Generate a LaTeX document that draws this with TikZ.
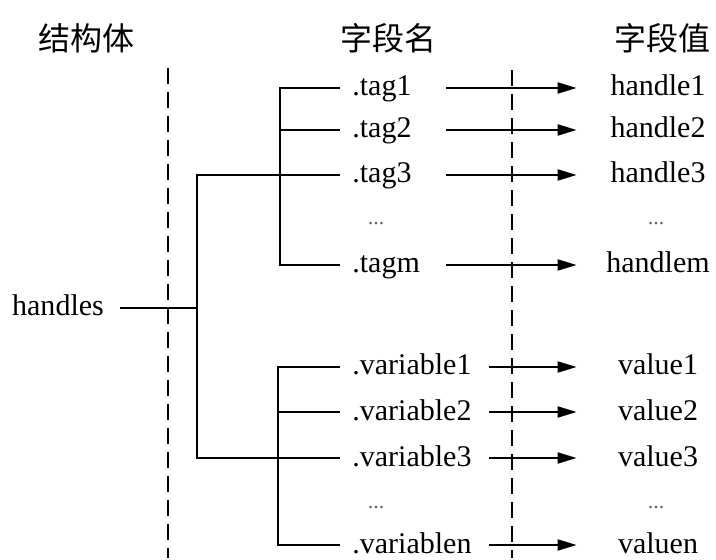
\documentclass[tikz,border=0pt]{standalone}
\usepackage{fontspec}
\setmainfont{Liberation Serif}
\newfontfamily\cjk{Noto Sans CJK SC}
\usetikzlibrary{arrows.meta, positioning}

\begin{document}
\begin{tikzpicture}[x=0.5pt, y=-0.5pt,
  head/.style={font=\cjk\fontsize{16}{18}\selectfont, inner sep=0pt},
  txt/.style={font=\fontsize{15}{17}\selectfont, inner sep=0pt,
              text height=10.5pt, text depth=2.5pt},
  field/.style={txt, anchor=west, inner xsep=6pt, align=left},
  tagf/.style={field, text width=40.5pt},
  varf/.style={field, text width=62pt},
  val/.style={txt, text width=81pt, align=center},
  dots/.style={font=\fontsize{11}{13}\selectfont, text=black!60, inner sep=0pt},
  tree/.style={line width=1pt},
  sep/.style={line width=1pt, dash pattern=on 8pt off 4pt},
  arr/.style={-{Triangle[length=9.5pt,width=5.5pt]}, line width=1pt}
]
  \useasboundingbox (0,0) rectangle (716,560);

  \node[head] (hstruct) at (86,38) {结构体};
  \node[head] (hname) at (388,38) {字段名};
  \node[head] (hvalue) at (662,38) {字段值};

  \draw[sep] (168,68) -- (168,558);
  \draw[sep] (512,70) -- (512,558);

  \node[txt, inner xsep=8pt] (handles) at (58,308) {handles};

  \node[tagf] (tag1) at (340,88) {.tag1};
  \node[tagf] (tag2) at (340,130) {.tag2};
  \node[tagf] (tag3) at (340,175) {.tag3};
  \node[dots] (tagdots) at (376,224) {...};
  \node[tagf] (tagm) at (340,265) {.tagm};

  \node[varf] (var1) at (340,367) {.variable1};
  \node[varf] (var2) at (340,412) {.variable2};
  \node[varf] (var3) at (340,458) {.variable3};
  \node[dots] (vardots) at (376,508) {...};
  \node[varf] (varn) at (340,545) {.variablen};

  \node[val] (handle1) at (658,88) {handle1};
  \node[val] (handle2) at (658,130) {handle2};
  \node[val] (handle3) at (658,175) {handle3};
  \node[dots] (handledots) at (656,224) {...};
  \node[val] (handlem) at (658,265) {handlem};

  \node[val] (value1) at (658,367) {value1};
  \node[val] (value2) at (658,412) {value2};
  \node[val] (value3) at (658,458) {value3};
  \node[dots] (valuedots) at (656,508) {...};
  \node[val] (valuen) at (658,545) {valuen};

  \coordinate (root) at (197,308);
  \coordinate (tagbar) at (280,175);
  \coordinate (varbar) at (278,458);

  \draw[tree] (handles) -- (root);
  \draw[tree] (tag3.west) -| (root) |- (var3.west);
  \draw[tree] (tag1.west) -| (tagbar) |- (tagm.west);
  \draw[tree] (tag2.west) -- (tag2.west -| tagbar);
  \draw[tree] (var1.west) -| (varbar) |- (varn.west);
  \draw[tree] (var2.west) -- (var2.west -| varbar);

  \draw[arr] (tag1) -- (handle1);
  \draw[arr] (tag2) -- (handle2);
  \draw[arr] (tag3) -- (handle3);
  \draw[arr] (tagm) -- (handlem);
  \draw[arr] (var1) -- (value1);
  \draw[arr] (var2) -- (value2);
  \draw[arr] (var3) -- (value3);
  \draw[arr] (varn) -- (valuen);
\end{tikzpicture}
\end{document}
